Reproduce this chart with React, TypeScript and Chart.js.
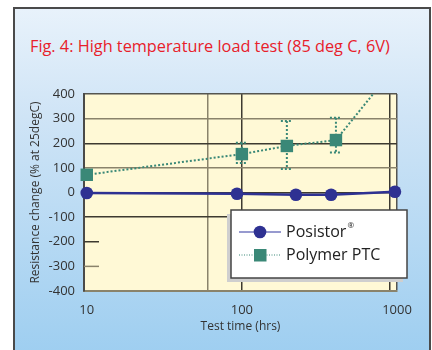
import React, { useEffect, useRef } from "react";
import { Chart, registerables } from "chart.js";

Chart.register(...registerables);

const TITLE = "Fig. 4: High temperature load test (85 deg C, 6V)";
const Y_TITLE = "Resistance change (% at 25degC)";
const X_TITLE = "Test time (hrs)";

const posistorHours = [10, 93, 223, 376, 970];
const posistorChange = [-2, -5, -9, -9, 3];

const polymerHours = [10, 100, 195, 404, 1000];
const polymerChange = [72, 156, 189, 213, 520];
const polymerErrHigh = [null, 202, 290, 304, null];
const polymerErrLow = [null, 120, 95, 162, null];

const xTickValues = [10, 60, 100, 900, 1000];
const xTickLabels = [10, 100, 1000];
const yMin = -400;
const yMax = 400;
const yStep = 100;
const yStubValues = [-200, -300];

const FONT = "'Open Sans', 'DejaVu Sans', sans-serif";
const BLUE = "#2e3192";
const GREEN = "#3a8877";
const DARK = "#3d3a30";
const GRAY = "#8a836b";

export default function App() {
  const ref = useRef<HTMLCanvasElement | null>(null);

  useEffect(() => {
    document.body.style.margin = "0";
    const canvas = ref.current;
    if (!canvas) return;

    const bgPlugin = {
      id: "plotBg",
      beforeDraw(chart: any) {
        const { ctx, chartArea: a } = chart;
        ctx.save();
        ctx.fillStyle = "#fff9d6";
        ctx.fillRect(a.left, a.top, a.right - a.left, a.bottom - a.top);
        ctx.restore();
      },
    };

    const stubPlugin = {
      id: "stubs",
      beforeDatasetsDraw(chart: any) {
        const { ctx, chartArea: a, scales } = chart;
        ctx.save();
        yStubValues.forEach((v, i) => {
          const y = scales.y.getPixelForValue(v);
          ctx.strokeStyle = i === 0 ? DARK : GRAY;
          ctx.lineWidth = 1.5;
          ctx.beginPath();
          ctx.moveTo(a.left, y);
          ctx.lineTo(a.left + 15, y);
          ctx.stroke();
        });
        ctx.restore();
      },
    };

    const errPlugin = {
      id: "errBars",
      beforeDatasetsDraw(chart: any) {
        const { ctx, scales } = chart;
        ctx.save();
        ctx.strokeStyle = GREEN;
        ctx.lineWidth = 2;
        ctx.setLineDash([2, 2]);
        polymerHours.forEach((h, i) => {
          const hi = polymerErrHigh[i];
          const lo = polymerErrLow[i];
          if (hi == null || lo == null) return;
          const x = scales.x.getPixelForValue(h);
          const yh = scales.y.getPixelForValue(hi);
          const yl = scales.y.getPixelForValue(lo);
          ctx.beginPath();
          ctx.moveTo(x, yh);
          ctx.lineTo(x, yl);
          ctx.moveTo(x - 6, yh);
          ctx.lineTo(x + 6, yh);
          ctx.moveTo(x - 6, yl);
          ctx.lineTo(x + 6, yl);
          ctx.stroke();
        });
        ctx.restore();
      },
    };

    const legendPlugin = {
      id: "boxLegend",
      afterDraw(chart: any) {
        const { ctx } = chart;
        const x = 231, y = 210, w = 176, h = 68;
        ctx.save();
        ctx.fillStyle = "#cfcfcf";
        ctx.fillRect(x - 4, y + 4, w, h);
        ctx.fillStyle = "#ffffff";
        ctx.fillRect(x, y, w, h);
        ctx.strokeStyle = "#444444";
        ctx.lineWidth = 1.5;
        ctx.strokeRect(x, y, w, h);

        const r1 = 232, r2 = 255;
        ctx.strokeStyle = "#7478bf";
        ctx.lineWidth = 1.5;
        ctx.beginPath();
        ctx.moveTo(239, r1);
        ctx.lineTo(281, r1);
        ctx.stroke();
        ctx.fillStyle = BLUE;
        ctx.beginPath();
        ctx.arc(260, r1, 6.3, 0, Math.PI * 2);
        ctx.fill();

        ctx.strokeStyle = GREEN;
        ctx.lineWidth = 1;
        ctx.setLineDash([1, 1.5]);
        ctx.beginPath();
        ctx.moveTo(239, r2);
        ctx.lineTo(281, r2);
        ctx.stroke();
        ctx.setLineDash([]);
        ctx.fillStyle = GREEN;
        ctx.fillRect(254, r2 - 6, 12.5, 12.5);

        ctx.fillStyle = "#222222";
        ctx.textBaseline = "middle";
        ctx.textAlign = "left";
        ctx.font = `16px ${FONT}`;
        ctx.fillText("Posistor", 286, r1);
        const pw = ctx.measureText("Posistor").width;
        ctx.font = `8px ${FONT}`;
        ctx.fillText("®", 286 + pw + 1, r1 - 6);
        ctx.font = `16px ${FONT}`;
        ctx.fillText("Polymer PTC", 286, r2);
        ctx.restore();
      },
    };

    const gridColorY = (ctx: any) => {
      const v = ctx.tick?.value;
      if (v === 400) return "#555550";
      if (v === 300 || v === 100) return GRAY;
      if (v === 200 || v === 0 || v === -100) return DARK;
      return "rgba(0,0,0,0)";
    };
    const gridColorX = (ctx: any) => {
      const v = ctx.tick?.value;
      if (v === 60) return GRAY;
      if (v === 100 || v === 900) return DARK;
      if (v === 1000) return "#555550";
      return "rgba(0,0,0,0)";
    };

    const chart = new Chart(canvas, {
      type: "line",
      data: {
        datasets: [
          {
            label: "Posistor",
            data: posistorHours.map((h, i) => ({ x: h, y: posistorChange[i] })),
            borderColor: BLUE,
            backgroundColor: BLUE,
            borderWidth: 2.5,
            pointRadius: 6.3,
            pointBorderWidth: 0,
            pointStyle: "circle",
            clip: false as any,
            order: 1,
          },
          {
            label: "Polymer PTC",
            data: polymerHours.map((h, i) => ({ x: h, y: polymerChange[i] })),
            borderColor: GREEN,
            backgroundColor: GREEN,
            borderWidth: 2,
            borderDash: [2, 2],
            pointRadius: [8.8, 8.8, 8.8, 8.8, 0],
            pointBorderWidth: 0,
            pointStyle: "rect",
            clip: { left: false, top: 0, right: false, bottom: false } as any,
            order: 2,
          },
        ],
      },
      options: {
        responsive: false,
        animation: false,
        layout: { padding: { top: 94, right: 35, bottom: 0, left: 0 } },
        plugins: {
          legend: { display: false },
          tooltip: { enabled: false },
          title: { display: false },
        },
        scales: {
          x: {
            type: "logarithmic",
            min: 9.6,
            max: 1000,
            afterBuildTicks: (s: any) => {
              s.ticks = xTickValues.map((v) => ({ value: v }));
            },
            afterFit: (s: any) => {
              s.height = 59;
            },
            grid: { color: gridColorX, lineWidth: 1.5, drawTicks: false },
            border: { color: GRAY, width: 2 },
            ticks: {
              autoSkip: false,
              maxRotation: 0,
              padding: 11,
              color: "#333333",
              font: { family: FONT, size: 13 },
              callback: (v: any) => (xTickLabels.includes(Number(v)) ? String(v) : ""),
            },
            title: {
              display: true,
              text: X_TITLE,
              color: "#333333",
              font: { family: FONT, size: 12 },
              padding: { top: 0, bottom: 16 },
            },
          },
          y: {
            type: "linear",
            min: yMin,
            max: yMax,
            afterFit: (s: any) => {
              s.width = 84;
            },
            grid: { color: gridColorY, lineWidth: 1.5, drawTicks: false },
            border: { color: "#4a4a48", width: 2 },
            ticks: {
              stepSize: yStep,
              padding: 9,
              color: "#333333",
              font: { family: FONT, size: 13 },
            },
            title: {
              display: true,
              text: Y_TITLE,
              color: "#333333",
              font: { family: FONT, size: 12 },
              padding: { top: 28, bottom: 0 },
            },
          },
        },
      },
      plugins: [bgPlugin, stubPlugin, errPlugin, legendPlugin],
    } as any);

    return () => chart.destroy();
  }, []);

  return (
    <div style={{ position: "fixed", left: 0, top: 0, width: 432, height: 350, overflow: "hidden", background: "#ffffff" }}>
      <div
        style={{
          position: "absolute",
          left: 13,
          top: 7,
          width: 414,
          height: 360,
          border: "2px solid #4a4a4a",
          background: "linear-gradient(to bottom, #e8f2fb 0%, #cfe4f6 30%, #9bcdf0 100%)",
        }}
      />
      <div
        style={{
          position: "absolute",
          left: 30,
          top: 36,
          color: "#e8202a",
          fontFamily: FONT,
          fontSize: 16.3,
          whiteSpace: "nowrap",
          lineHeight: "20px",
        }}
      >
        {TITLE}
      </div>
      <canvas ref={ref} width={432} height={350} style={{ position: "absolute", left: 0, top: 0 }} />
    </div>
  );
}
